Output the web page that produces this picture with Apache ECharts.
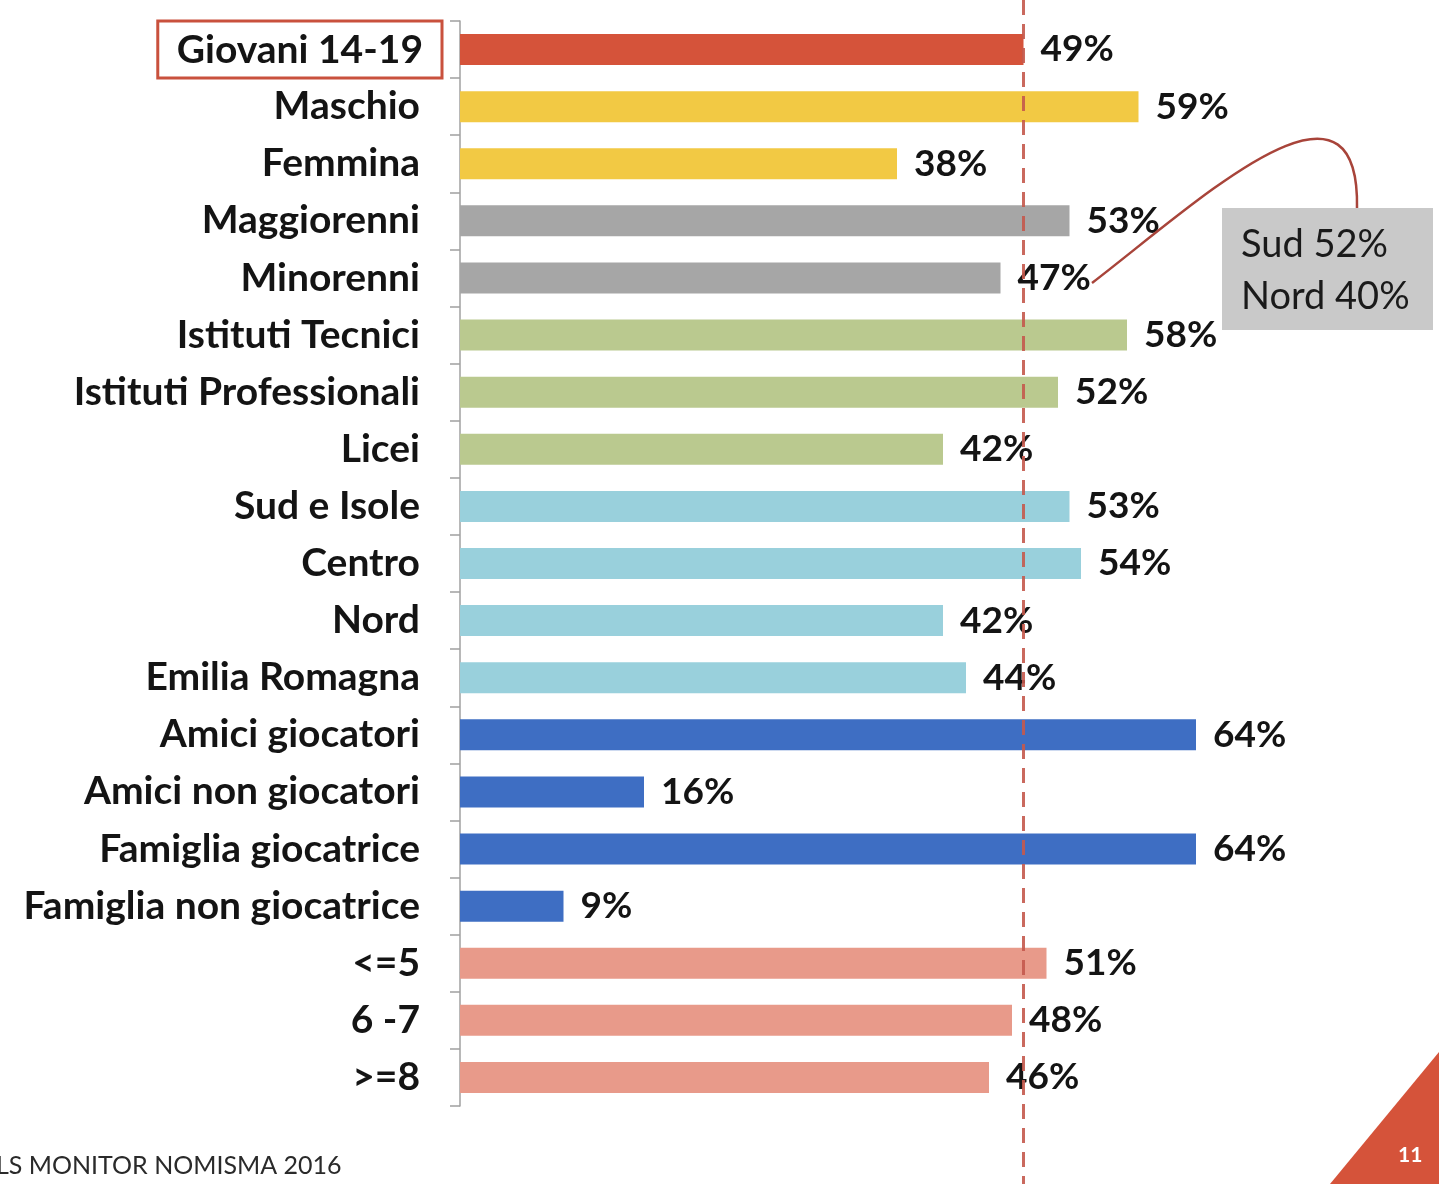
<!DOCTYPE html>
<html>
<head>
<meta charset="utf-8">
<script src="https://cdn.jsdelivr.net/npm/echarts@6/dist/echarts.min.js"></script>
<style>
html,body{margin:0;padding:0;background:#fff;}
#chart{width:1439px;height:1184px;}
</style>
</head>
<body>
<div id="chart"></div>
<script>
const categories = ["Giovani 14-19","Maschio","Femmina","Maggiorenni","Minorenni","Istituti Tecnici","Istituti Professionali","Licei","Sud e Isole","Centro","Nord","Emilia Romagna","Amici giocatori","Amici non giocatori","Famiglia giocatrice","Famiglia non giocatrice","<=5","6 -7",">=8"];
const values = [49,59,38,53,47,58,52,42,53,54,42,44,64,16,64,9,51,48,46];
const referenceValue = 49;
const noteLines = ["Sud 52%","Nord 40%"];
const sourceText = "LS MONITOR NOMISMA 2016";
const pageNumber = "11";

const barColors = ["#d5533a","#f2c944","#f2c944","#a6a6a6","#a6a6a6","#bac98f","#bac98f","#bac98f","#99d0dc","#99d0dc","#99d0dc","#99d0dc","#3e6ec3","#3e6ec3","#3e6ec3","#3e6ec3","#e89a8a","#e89a8a","#e89a8a"];

const FONT = "Lato";
const chart = echarts.init(document.getElementById('chart'), null, {renderer:'canvas'});

const option = {
  backgroundColor: '#ffffff',
  animation: false,
  grid: { left: 460, top: 21, height: 1085, width: 920, containLabel: false },
  xAxis: {
    type: 'value', min: 0, max: 80, show: false
  },
  yAxis: {
    type: 'category',
    data: categories,
    inverse: true,
    axisLine: { show: true, lineStyle: { color: '#a0a0a0', width: 1.5 } },
    axisTick: { show: true, length: 10, lineStyle: { color: '#a0a0a0', width: 1.5 } },
    axisLabel: {
      margin: 18,
      fontFamily: FONT,
      fontWeight: 'bold',
      fontSize: 39,
      color: '#141414',
      formatter: function (v, i) { return i === 0 ? '{hl|' + v + '}' : '{n|' + v + '}'; },
      rich: {
        n: { fontFamily: FONT, fontWeight: 'bold', fontSize: 39, color: '#141414', padding: [0, 22, 0, 0] },
        hl: { fontFamily: FONT, fontWeight: 'bold', fontSize: 39, lineHeight: 40, color: '#141414',
              padding: [10, 19, 8, 19], borderColor: '#c9513d', borderWidth: 3 }
      }
    }
  },
  series: [{
    type: 'bar',
    data: values.map((v, i) => ({ value: v, itemStyle: { color: barColors[i] } })),
    barWidth: 31,
    label: {
      show: true, position: 'right', distance: 17,
      formatter: '{c}%',
      fontFamily: FONT, fontWeight: 'bold', fontSize: 37, color: '#141414'
    }
  }]
};
chart.setOption(option);

const refX = chart.convertToPixel({ xAxisIndex: 0 }, referenceValue);

chart.setOption({
  graphic: [
    {
      type: 'line', z: 100,
      shape: { x1: refX, y1: 0, x2: refX, y2: 1184 },
      style: { stroke: '#c4594c', lineWidth: 3, lineDash: [15, 9], opacity: 0.9 }
    },
    {
      type: 'bezierCurve', z: 90,
      shape: { x1: 1092, y1: 283, cpx1: 1200, cpy1: 200, cpx2: 1360, cpy2: 50, x2: 1357, y2: 208 },
      style: { stroke: '#a8443a', lineWidth: 2.5, fill: null }
    },
    {
      type: 'rect', z: 95,
      shape: { x: 1222, y: 208, width: 211, height: 122 },
      style: { fill: '#c9c9c9' }
    },
    {
      type: 'text', z: 96, left: 1241, top: 219,
      style: { text: noteLines.join('\n'), font: '38px ' + FONT, fill: '#1a1a1a', lineHeight: 52 }
    },
    {
      type: 'text', z: 96, left: -4, top: 1153,
      style: { text: sourceText, font: '25px ' + FONT, fill: '#2a2a2a' }
    },
    {
      type: 'polygon', z: 96,
      shape: { points: [[1330, 1184], [1439, 1052], [1439, 1184]] },
      style: { fill: '#d5533a' }
    },
    {
      type: 'text', z: 97, left: 1398, top: 1145,
      style: { text: pageNumber, font: 'bold 21px ' + FONT, fill: '#ffffff' }
    }
  ]
});
</script>
</body>
</html>
